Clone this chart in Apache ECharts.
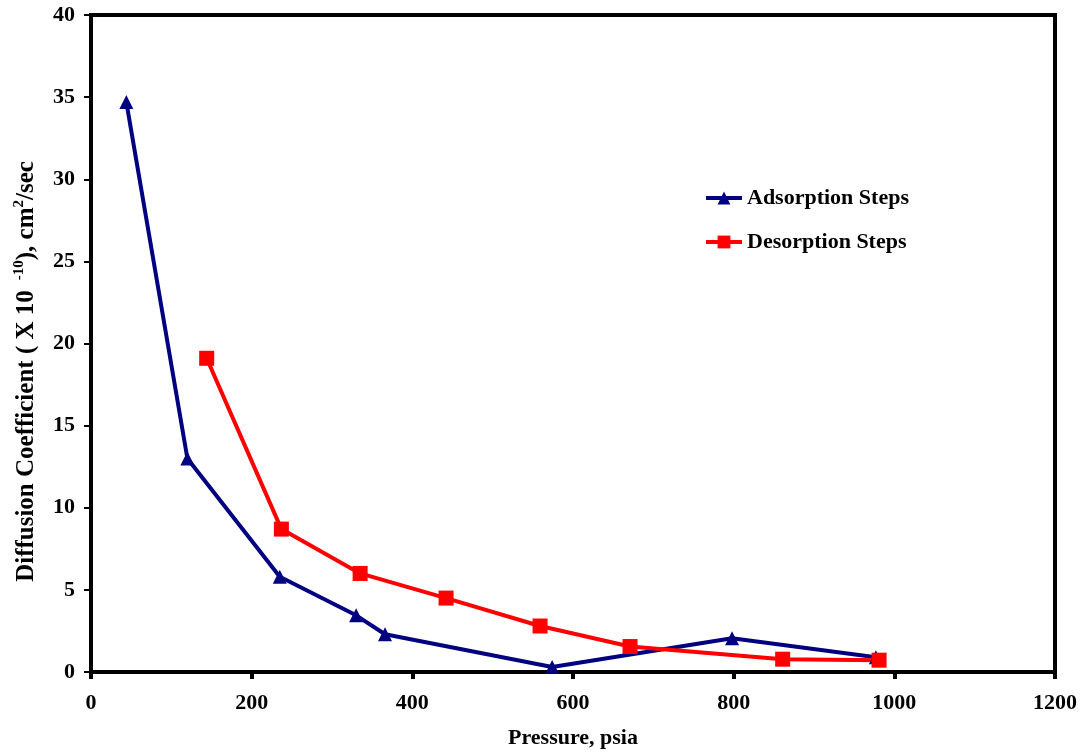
<!DOCTYPE html>
<html>
<head>
<meta charset="utf-8">
<script src="https://cdn.jsdelivr.net/npm/echarts@6/dist/echarts.min.js"></script>
<style>
  html, body { margin: 0; padding: 0; background: #fff; }
  #chart { width: 1085px; height: 755px; }
</style>
</head>
<body>
<div id="chart"></div>
<script>
// pressure (psia) vs diffusion coefficient (x 10^-10 cm2/sec)
var adsPressure = [44, 120, 235, 330, 366, 574, 798, 977]
var adsCoeff = [34.7, 13.0, 5.8, 3.45, 2.3, 0.3, 2.05, 0.9]
var desPressure = [144, 237, 335, 442, 559, 671, 861, 981]
var desCoeff = [19.1, 8.7, 6.0, 4.5, 2.8, 1.55, 0.78, 0.72]

var fontFam = '"Liberation Serif", "Times New Roman", serif'

function pairs (xs, ys) {
  var out = []
  for (var i = 0; i < xs.length; i++) {
    out.push([xs[i], ys[i]])
  }
  return out
}

var chart = echarts.init(document.getElementById('chart'))
var option = {
  animation: false,
  backgroundColor: '#fff',
  grid: {
    left: 91,
    right: 30,
    top: 15,
    bottom: 83,
    outerBoundsMode: 'none',
    show: true,
    borderColor: '#000',
    borderWidth: 4
  },
  legend: {
    orient: 'vertical',
    left: 699,
    top: 182,
    itemWidth: 36,
    itemHeight: 16,
    itemGap: 22,
    lineStyle: { width: 4 },
    textStyle: {
      fontFamily: fontFam,
      fontWeight: 'bold',
      fontSize: 22,
      color: '#000'
    },
    data: ['Adsorption Steps', 'Desorption Steps']
  },
  xAxis: {
    type: 'value',
    min: 0,
    max: 1200,
    interval: 200,
    name: 'Pressure, psia',
    nameLocation: 'middle',
    nameGap: 55,
    nameTextStyle: {
      fontFamily: fontFam,
      fontWeight: 'bold',
      fontSize: 22,
      color: '#000'
    },
    axisLine: { show: true, lineStyle: { color: '#000', width: 4 } },
    axisTick: { show: true, length: 7, lineStyle: { color: '#000', width: 4 } },
    axisLabel: {
      margin: 20,
      formatter: function (v) { return String(v) },
      fontFamily: fontFam,
      fontWeight: 'bold',
      fontSize: 22,
      color: '#000'
    },
    splitLine: { show: false }
  },
  yAxis: {
    type: 'value',
    min: 0,
    max: 40,
    interval: 5,
    name: 'Diffusion Coefficient ( X 10 {sup| -10}), cm{sup|2}/sec',
    nameLocation: 'middle',
    nameGap: 50,
    nameTextStyle: {
      fontFamily: fontFam,
      fontWeight: 'bold',
      fontSize: 25,
      color: '#000',
      padding: [0, 56, 0, 0],
      rich: {
        sup: {
          fontFamily: fontFam,
          fontWeight: 'bold',
          fontSize: 15,
          color: '#000',
          padding: [0, 0, 14, 0]
        }
      }
    },
    axisLine: { show: true, lineStyle: { color: '#000', width: 4 } },
    axisTick: { show: true, length: 7, lineStyle: { color: '#000', width: 2 } },
    axisLabel: {
      margin: 16,
      fontFamily: fontFam,
      fontWeight: 'bold',
      fontSize: 22,
      color: '#000'
    },
    splitLine: { show: false }
  },
  series: [
    {
      name: 'Adsorption Steps',
      type: 'line',
      data: pairs(adsPressure, adsCoeff),
      symbol: 'triangle',
      symbolSize: 14,
      color: '#000080',
      lineStyle: { color: '#000080', width: 4 },
      itemStyle: { color: '#000080' }
    },
    {
      name: 'Desorption Steps',
      type: 'line',
      data: pairs(desPressure, desCoeff),
      symbol: 'rect',
      symbolSize: 15,
      color: '#ff0000',
      lineStyle: { color: '#ff0000', width: 4 },
      itemStyle: { color: '#ff0000' }
    }
  ]
}
chart.setOption(option)
</script>
</body>
</html>
